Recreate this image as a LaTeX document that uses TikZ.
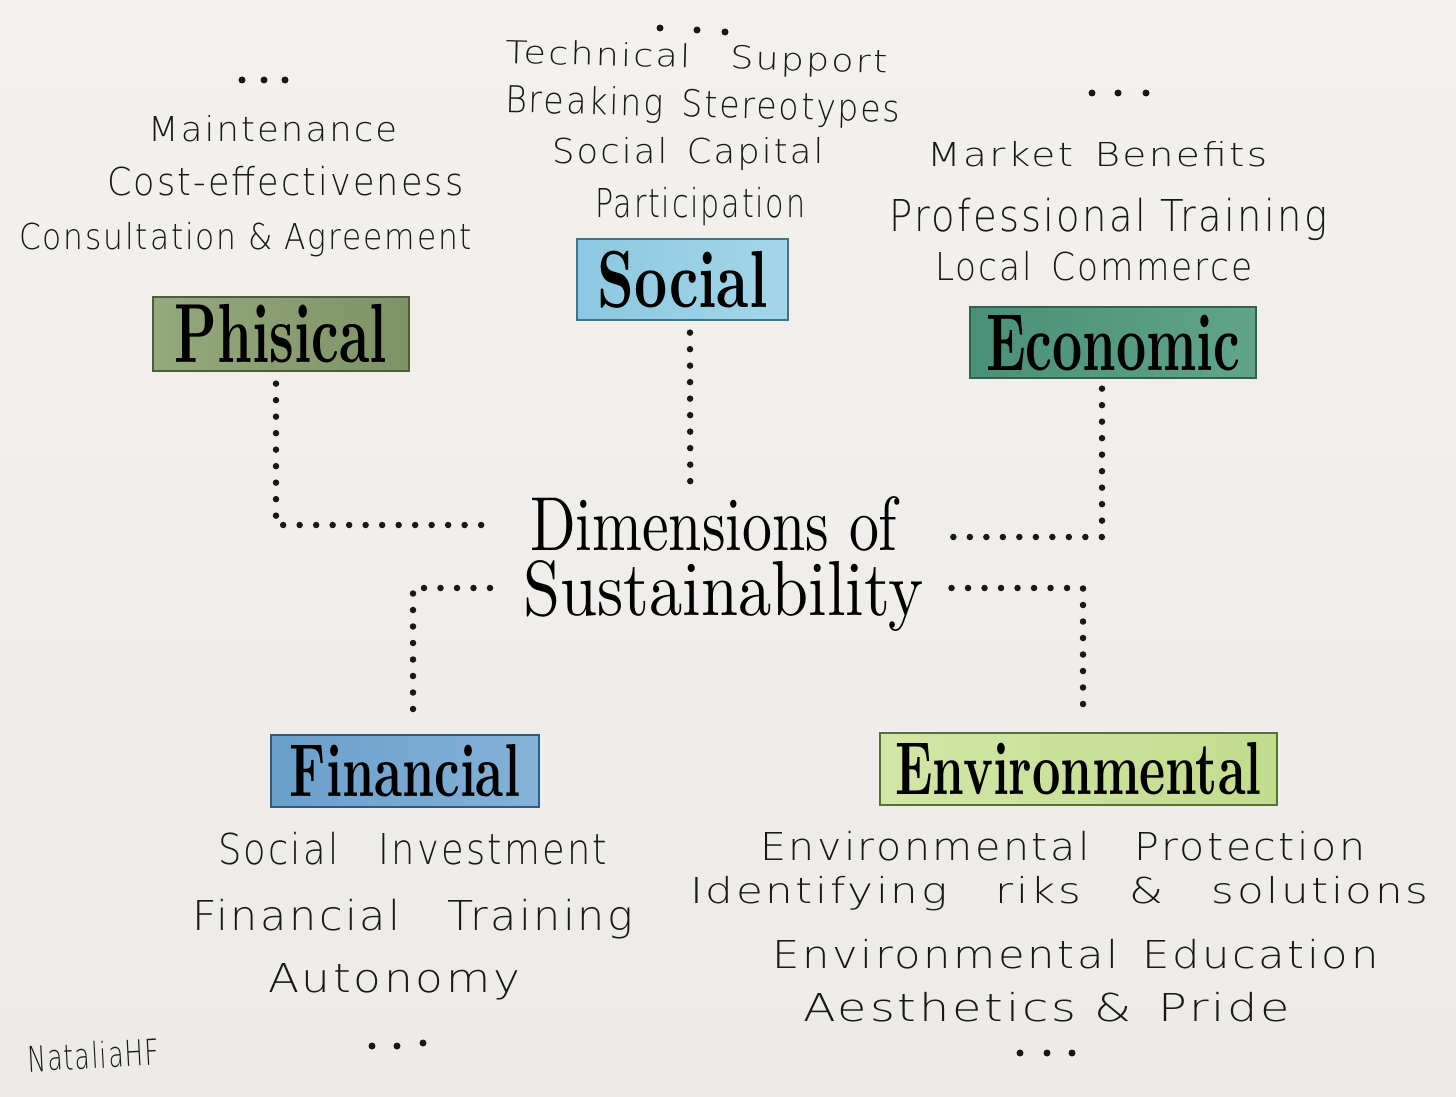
\documentclass[tikz,border=0pt]{standalone}
\usepackage{fontspec}
\usepackage{graphicx}
\newfontfamily\handfont[LetterSpace=6]{DejaVuSans-ExtraLight.ttf}
\newcommand{\hwline}[3]{\resizebox{#1pt}{#2pt}{\handfont\vphantom{E}\smash{#3}}}
\newcommand{\sertitle}[3]{\resizebox{#1pt}{#2pt}{\rmfamily\vphantom{E}\smash{#3}}}
\newcommand{\boxtitle}[3]{\resizebox{#1pt}{#2pt}{\rmfamily\bfseries\vphantom{E}\smash{#3}}}
\newcommand{\wsp}{\hspace{0.55em}}
\definecolor{paper}{HTML}{F2F1EE}
\definecolor{paperB}{HTML}{ECEBE7}
\definecolor{ink}{HTML}{181818}
\definecolor{phisC}{HTML}{7E9267}
\definecolor{phisL}{HTML}{94A97C}
\definecolor{phisD}{HTML}{4C5E3C}
\definecolor{socC}{HTML}{8CC8E0}
\definecolor{socL}{HTML}{A4D6E8}
\definecolor{socD}{HTML}{3A7590}
\definecolor{ecoC}{HTML}{4A8F77}
\definecolor{ecoL}{HTML}{62A48C}
\definecolor{ecoD}{HTML}{2C6450}
\definecolor{finC}{HTML}{6A9FCB}
\definecolor{finL}{HTML}{84B2D8}
\definecolor{finD}{HTML}{2E5C86}
\definecolor{envC}{HTML}{C2DC8E}
\definecolor{envL}{HTML}{D2E6A6}
\definecolor{envD}{HTML}{55703A}
\tikzset{
  box/.style={draw, line width=1.3pt, inner sep=0pt, rectangle},
  hand/.style={inner sep=0pt, anchor=base west, text=ink},
  dotline/.style={draw=ink, line width=6.5pt, line cap=round, dash pattern=on 0pt off 16.5pt},
  elip/.style={fill=ink}
}
\begin{document}
\begin{tikzpicture}[x=1pt, y=-1pt]
\useasboundingbox (0,0) rectangle (1456,1097);
\shade[top color=paper, bottom color=paperB] (0,0) rectangle (1456,1097);

% ---------- category boxes ----------
\node[box, draw=phisD, left color=phisL, right color=phisC, minimum width=256pt, minimum height=74pt] (phis) at (281,334) {\boxtitle{212}{57}{Phisical}};
\node[box, draw=socD, left color=socC, right color=socL, minimum width=211pt, minimum height=81pt] (soc) at (682.5,279.5) {\boxtitle{170}{55}{Social}};
\node[box, draw=ecoD, left color=ecoC, right color=ecoL, minimum width=286pt, minimum height=71pt] (eco) at (1113,342.5) {\boxtitle{254}{55}{Economic}};
\node[box, draw=finD, left color=finC, right color=finL, minimum width=268pt, minimum height=72pt] (fin) at (405,771) {\boxtitle{230}{51}{Financial}};
\node[box, draw=envD, left color=envL, right color=envC, minimum width=397pt, minimum height=72pt] (env) at (1078.5,769) {\boxtitle{366}{51}{Environmental}};

% ---------- central title ----------
\node[inner sep=0pt, anchor=north west, align=left] (dim) at (523,498)
  {\hspace*{7pt}\sertitle{367}{52}{Dimensions of}\\[11pt]\sertitle{400}{53}{Sustainability}};

% ---------- dotted connectors ----------
\coordinate (dimL1) at ([xshift=-33pt,yshift=-27pt]dim.north west);
\coordinate (dimL2) at ([xshift=-33pt,yshift=-90pt]dim.north west);
\coordinate (dimR1) at ([xshift=20pt,yshift=-39pt]dim.north east);
\coordinate (dimR2) at ([xshift=28pt,yshift=-90pt]dim.north east);
\coordinate (dimT) at ([xshift=-33pt,yshift=1pt]dim.north);
\draw[dotline] ([xshift=-5pt,yshift=-12pt]phis.south) |- (dimL1);
\draw[dotline] ([xshift=7.5pt,yshift=-12pt]soc.south) -- (dimT);
\draw[dotline] ([xshift=-11pt,yshift=-10pt]eco.south) |- (dimR1);
\draw[dotline] (dimL2) -| ([xshift=8pt,yshift=13pt]fin.north);
\draw[dotline] (dimR2) -| ([xshift=4.5pt,yshift=21pt]env.north);

% ---------- Phisical list ----------
\fill[elip] (242,80) circle (3.5) (264,80) circle (3.5) (285,80) circle (3.5);
\node[hand] (p1) at (148,142) {\hwline{249}{25}{Maintenance}};
\node[hand] (p2) at (107,195) {\hwline{356}{28}{Cost-effectiveness}};
\node[hand] (p3) at (19,249) {\hwline{453}{26}{Consultation \& Agreement}};

% ---------- Social list ----------
\fill[elip] (660,28) circle (3.5) (697,30) circle (3.5) (725,32) circle (3.5);
\node[hand, rotate=-1.5] (s1) at (505,63) {\hwline{382}{23}{Technical\wsp\wsp Support}};
\node[hand, rotate=-1.5] (s2) at (505,112) {\hwline{395}{27}{Breaking\wsp Stereotypes}};
\node[hand] (s3) at (552,163) {\hwline{271}{25}{Social\wsp Capital}};
\node[hand] (s4) at (595,217) {\hwline{210}{29}{Participation}};

% ---------- Economic list ----------
\fill[elip] (1092,93) circle (3.5) (1118,93) circle (3.5) (1146,93) circle (3.5);
\node[hand] (e1) at (927,167) {\hwline{340}{24}{Market\wsp Benefits}};
\node[hand] (e2) at (889,231) {\hwline{438}{32}{Professional Training}};
\node[hand] (e3) at (935,280) {\hwline{317}{28}{Local\wsp Commerce}};

% ---------- Financial list ----------
\node[hand] (f1) at (218,864) {\hwline{389}{31}{Social\wsp\wsp Investment}};
\node[hand] (f2) at (192,930) {\hwline{441}{30}{Financial\wsp\wsp Training}};
\node[hand] (f3) at (268,992) {\hwline{252}{29}{Autonomy}};
\fill[elip] (372,1046) circle (3.5) (397,1046) circle (3.5) (423,1043) circle (3.5);

% ---------- Environmental list ----------
\node[hand] (v1) at (760,860) {\hwline{605}{28}{Environmental\wsp\wsp Protection}};
\node[hand] (v2) at (690,903) {\hwline{738}{26}{Identifying\wsp\wsp riks\wsp\wsp \&\wsp\wsp solutions}};
\node[hand] (v3) at (772,968) {\hwline{606}{28}{Environmental\wsp Education}};
\node[hand] (v4) at (803,1021) {\hwline{487}{28}{Aesthetics \&\wsp Pride}};
\fill[elip] (1020,1053) circle (3.5) (1047,1053) circle (3.5) (1072,1053) circle (3.5);

% ---------- signature ----------
\node[hand, rotate=3] (sig) at (28,1072) {\resizebox{132pt}{26pt}{\handfont\itshape\vphantom{N}\smash{NataliaHF}}};
\end{tikzpicture}
\end{document}
